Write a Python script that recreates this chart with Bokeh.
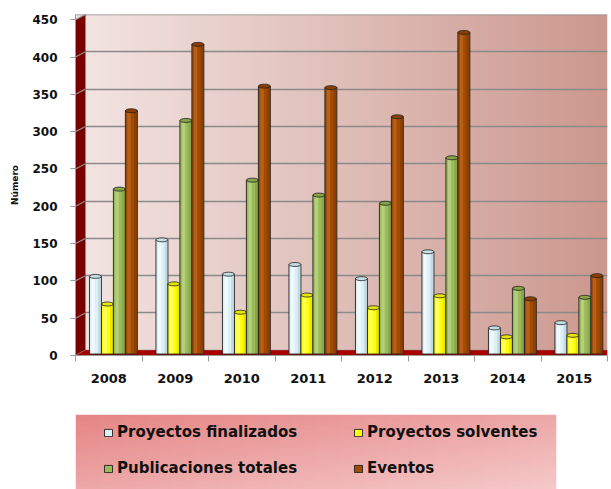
import numpy as np
from bokeh.plotting import figure
from bokeh.layouts import column
from bokeh.models import Range1d, FixedTicker, Legend, LegendItem, ColumnDataSource
from bokeh.embed import file_html
from bokeh.resources import INLINE

years = ["2008", "2009", "2010", "2011", "2012", "2013", "2014", "2015"]
finalizados = [106, 155, 109, 122, 103, 139, 37, 44]
solventes = [69, 96, 58, 81, 64, 80, 25, 27]
publicaciones = [223, 315, 235, 215, 204, 265, 90, 78]
eventos = [328, 417, 361, 359, 320, 433, 76, 107]

series_names = ["Proyectos finalizados", "Proyectos solventes", "Publicaciones totales", "Eventos"]
series_values = [finalizados, solventes, publicaciones, eventos]
base_colors = ["#dcf1f7", "#ffff00", "#9bbb59", "#a04a02"]
light_colors = ["#ffffff", "#ffffa8", "#c6dc98", "#c8702a"]
dark_colors = ["#9fb8c0", "#c8c800", "#6f8a3a", "#6e3000"]
top_colors = ["#c4dce4", "#e6e600", "#86a348", "#8a3e00"]
y_ticks = list(range(0, 451, 50))


def gradient_image(c0, c1, rows, cols, diagonal=False):
    img = np.zeros((rows, cols), dtype=np.uint32)
    view = img.view(dtype=np.uint8).reshape((rows, cols, 4))
    c0 = np.array(c0, dtype=float)
    c1 = np.array(c1, dtype=float)
    for r in range(rows):
        for c in range(cols):
            t = c / (cols - 1)
            if diagonal:
                t = 0.5 * t + 0.5 * (1 - r / (rows - 1))
            col = c0 * (1 - t) + c1 * t
            view[r, c, 0:3] = col.astype(np.uint8)
            view[r, c, 3] = 255
    return img


n = len(years)
centers = np.arange(n) + 0.5
bounds = list(np.arange(n + 1).astype(float))
offsets = [-0.20, -0.02, 0.16, 0.34]
bar_w = 0.18
depth = 7          # 3D depth offset of back wall (value units)
wall_w = 0.15      # 3D depth offset (category units)

p = figure(width=611, height=414, x_range=Range1d(0, n), y_range=Range1d(0, 450 + depth),
           output_backend="svg", toolbar_location=None,
           min_border_left=71, min_border_right=4, min_border_top=14, min_border_bottom=59)
p.background_fill_color = "#ffffff"
p.border_fill_color = "#ffffff"
p.outline_line_color = None

# plot area horizontal gradient
p.image_rgba(image=[gradient_image((243, 229, 227), (204, 152, 142), 2, 120)],
             x=0, y=0, dw=n, dh=450 + depth, level="image")

# back-wall gridlines
p.hspan(y=[v + depth for v in y_ticks], line_color="#8a8a8a", line_width=1.5, level="underlay")

# side wall and floor
p.patch(x=[0, wall_w, wall_w, 0], y=[0, depth, 450 + depth, 450],
        fill_color="#7a0000", line_color=None)
p.segment(x0=[0] * len(y_ticks), y0=y_ticks, x1=[wall_w] * len(y_ticks),
          y1=[v + depth for v in y_ticks], line_color="#8c8c8c", line_width=1.2)
p.patch(x=[0, n, n, wall_w], y=[0, 0, depth, depth], fill_color="#a80000", line_color=None)

renderers = []
for vals, off, bc, lc, dc, tc in zip(series_values, offsets, base_colors, light_colors, dark_colors, top_colors):
    src = ColumnDataSource(dict(x=centers + off, top=vals, year=years))
    r = p.vbar(x="x", top="top", bottom=2, width=bar_w, source=src,
               fill_color=bc, line_color="#222222", line_width=0.9)
    renderers.append(r)
    p.vbar(x=centers + off - 0.035, top=[v - 1 for v in vals], bottom=3, width=0.05,
           fill_color=lc, fill_alpha=0.6, line_color=None)
    p.vbar(x=centers + off + 0.06, top=[v - 1 for v in vals], bottom=3, width=0.04,
           fill_color=dc, fill_alpha=0.4, line_color=None)
    p.ellipse(x=centers + off, y=vals, width=bar_w, height=4, height_units="screen",
              fill_color=tc, line_color="#222222", line_width=0.8)

# axes
p.xgrid.visible = False
p.ygrid.visible = False

p.yaxis.ticker = FixedTicker(ticks=y_ticks)
p.yaxis.axis_line_color = "#9a9a9a"
p.yaxis.major_tick_line_color = "#9a9a9a"
p.yaxis.major_tick_out = 5
p.yaxis.major_tick_in = 0
p.yaxis.minor_tick_line_color = None
p.yaxis.major_label_standoff = 13
p.yaxis.major_label_text_font = "DejaVu Sans"
p.yaxis.major_label_text_font_style = "bold"
p.yaxis.major_label_text_font_size = "12px"
p.yaxis.major_label_text_color = "#111111"
p.yaxis.axis_label = "Número"
p.yaxis.axis_label_text_font = "DejaVu Sans"
p.yaxis.axis_label_text_font_style = "bold"
p.yaxis.axis_label_text_font_size = "9px"
p.yaxis.axis_label_standoff = 9
p.yaxis.axis_label_text_color = "#111111"

p.xaxis.ticker = FixedTicker(ticks=list(centers), minor_ticks=bounds)
p.xaxis.major_label_overrides = {float(c): y for c, y in zip(centers, years)}
p.xaxis.axis_line_color = "#9a9a9a"
p.xaxis.major_tick_line_color = None
p.xaxis.major_tick_out = 0
p.xaxis.major_tick_in = 0
p.xaxis.minor_tick_line_color = "#9a9a9a"
p.xaxis.minor_tick_out = 6
p.xaxis.minor_tick_in = 0
p.xaxis.major_label_standoff = 12
p.xaxis.major_label_text_font = "DejaVu Sans"
p.xaxis.major_label_text_font_style = "bold"
p.xaxis.major_label_text_font_size = "13px"
p.xaxis.major_label_text_color = "#111111"

# legend box as its own small figure
lp = figure(width=560, height=75, x_range=Range1d(0, 1), y_range=Range1d(0, 1),
            output_backend="svg", toolbar_location=None,
            min_border_left=75, min_border_right=0, min_border_top=0, min_border_bottom=0)
lp.axis.visible = False
lp.grid.visible = False
lp.outline_line_color = None
lp.border_fill_color = "#ffffff"
lp.image_rgba(image=[gradient_image((230, 134, 134), (245, 200, 200), 20, 40, diagonal=True)],
              x=0, y=0, dw=1, dh=1, level="image")
leg_renderers = []
for bc in base_colors:
    # swatch-only renderers: their single bar lies below this legend box (off canvas)
    leg_renderers.append(lp.vbar(x=[0.5], bottom=[-3], top=[-2], width=0.1, fill_color=bc,
                                 line_color="#222222", line_width=0.9))

legend = Legend(items=[LegendItem(label=nm, renderers=[r]) for nm, r in zip(series_names, leg_renderers)],
                location=(28, 12), orientation="horizontal", ncols=2,
                padding=0, spacing=18, margin=0,
                label_height=18, label_width=218, label_standoff=4,
                glyph_width=10, glyph_height=9,
                label_text_font="DejaVu Sans", label_text_font_style="bold",
                label_text_font_size="15px", label_text_color="#111111",
                background_fill_alpha=0.0, border_line_color=None)
lp.add_layout(legend, "center")

layout = column(p, lp, spacing=0)
open("out.html", "w").write(file_html(layout, INLINE))
